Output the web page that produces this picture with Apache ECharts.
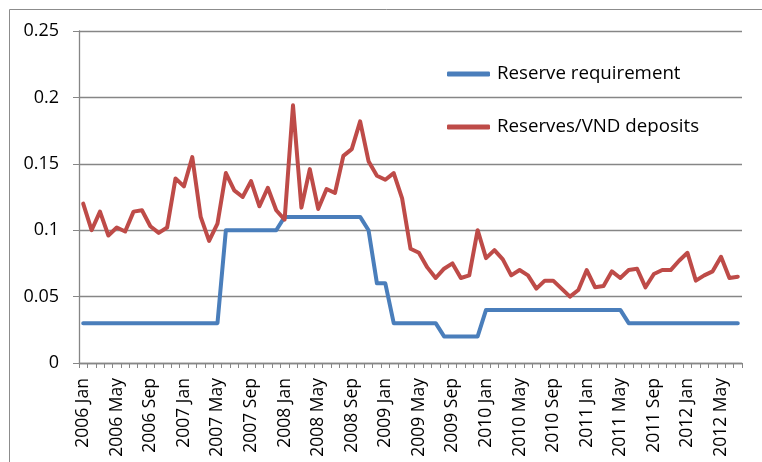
<!DOCTYPE html>
<html>
<head>
<meta charset="utf-8">
<script src="https://cdn.jsdelivr.net/npm/echarts@6/dist/echarts.min.js"></script>
<style>
html,body{margin:0;padding:0;background:#fff;}
#chart{width:762px;height:462px;}
</style>
</head>
<body>
<div id="chart"></div>
<script>
var years = ['2006','2007','2008','2009','2010','2011','2012'];
var months = ['Jan','Feb','Mar','Apr','May','Jun','Jul','Aug','Sep','Oct','Nov','Dec'];
var lastMonthCount = 7; // 2012 Jan..Jul

var reserveRequirement = [
  0.03,0.03,0.03,0.03,0.03,0.03,0.03,0.03,0.03,0.03,0.03,0.03,
  0.03,0.03,0.03,0.03,0.03,0.10,0.10,0.10,0.10,0.10,0.10,0.10,
  0.11,0.11,0.11,0.11,0.11,0.11,0.11,0.11,0.11,0.11,0.10,0.06,
  0.06,0.03,0.03,0.03,0.03,0.03,0.03,0.02,0.02,0.02,0.02,0.02,
  0.04,0.04,0.04,0.04,0.04,0.04,0.04,0.04,0.04,0.04,0.04,0.04,
  0.04,0.04,0.04,0.04,0.04,0.03,0.03,0.03,0.03,0.03,0.03,0.03,
  0.03,0.03,0.03,0.03,0.03,0.03,0.03
];
var reservesToDeposits = [
  0.120,0.100,0.114,0.096,0.102,0.099,0.114,0.115,0.103,0.098,0.102,0.139,
  0.133,0.155,0.110,0.092,0.105,0.143,0.130,0.125,0.137,0.118,0.132,0.115,
  0.108,0.194,0.117,0.146,0.116,0.131,0.128,0.156,0.161,0.182,0.152,0.141,
  0.138,0.143,0.124,0.086,0.083,0.072,0.064,0.071,0.075,0.064,0.066,0.100,
  0.079,0.085,0.078,0.066,0.070,0.066,0.056,0.062,0.062,0.056,0.050,0.055,
  0.070,0.057,0.058,0.069,0.064,0.070,0.071,0.057,0.067,0.070,0.070,0.077,
  0.083,0.062,0.066,0.069,0.080,0.064,0.065
];
var seriesNames = ['Reserve requirement','Reserves/VND deposits'];
var yTicks = [0, 0.05, 0.1, 0.15, 0.2, 0.25];

var categories = [];
years.forEach(function(y, yi){
  var n = (yi === years.length - 1) ? lastMonthCount : 12;
  for (var m = 0; m < n; m++) categories.push(y + ' ' + months[m]);
});

var FONT = 'Open Sans';
var grey = '#868686';
var chart = echarts.init(document.getElementById('chart'), null, {renderer:'canvas'});
chart.setOption({
  animation:false,
  backgroundColor:'#fff',
  textStyle:{fontFamily:FONT},
  graphic:[{
    type:'rect', silent:true, z:-1,
    shape:{x:9.5,y:9.5,width:820,height:500},
    style:{fill:'none',stroke:'#8c8c8c',lineWidth:1}
  }],
  grid:{left:79,right:20,top:31,bottom:99,containLabel:false},
  legend:{
    orient:'vertical', left:447, top:64, itemGap:33, padding:0,
    itemWidth:43, itemHeight:5, icon:'roundRect',
    textStyle:{fontFamily:FONT,fontSize:18.7,color:'#000',lineHeight:20,padding:[0,0,0,2]},
    data:seriesNames
  },
  xAxis:{
    type:'category', data:categories, boundaryGap:true,
    axisLine:{lineStyle:{color:grey,width:1.3}},
    axisTick:{show:true,interval:0,length:5,lineStyle:{color:grey,width:1}},
    axisLabel:{interval:3,rotate:90,margin:15,fontFamily:FONT,fontSize:17.5,color:'#000'},
    splitLine:{show:false}
  },
  yAxis:{
    type:'value', min:yTicks[0], max:yTicks[yTicks.length-1], interval:0.05,
    axisLine:{show:true,lineStyle:{color:grey,width:1.3}},
    axisTick:{show:true,length:6,lineStyle:{color:grey,width:1}},
    axisLabel:{margin:20,fontFamily:FONT,fontSize:18,color:'#000',
      formatter:function(v){return String(Math.round(v*100)/100);}},
    splitLine:{show:true,lineStyle:{color:grey,width:1.3}}
  },
  series:[
    {name:seriesNames[0],type:'line',data:reserveRequirement,showSymbol:false,symbol:'none',
     lineStyle:{color:'#4A7EBB',width:4,cap:'round',join:'round'},itemStyle:{color:'#4A7EBB'}},
    {name:seriesNames[1],type:'line',data:reservesToDeposits,showSymbol:false,symbol:'none',
     lineStyle:{color:'#BE4B48',width:4,cap:'round',join:'round'},itemStyle:{color:'#BE4B48'}}
  ]
});
</script>
</body>
</html>
